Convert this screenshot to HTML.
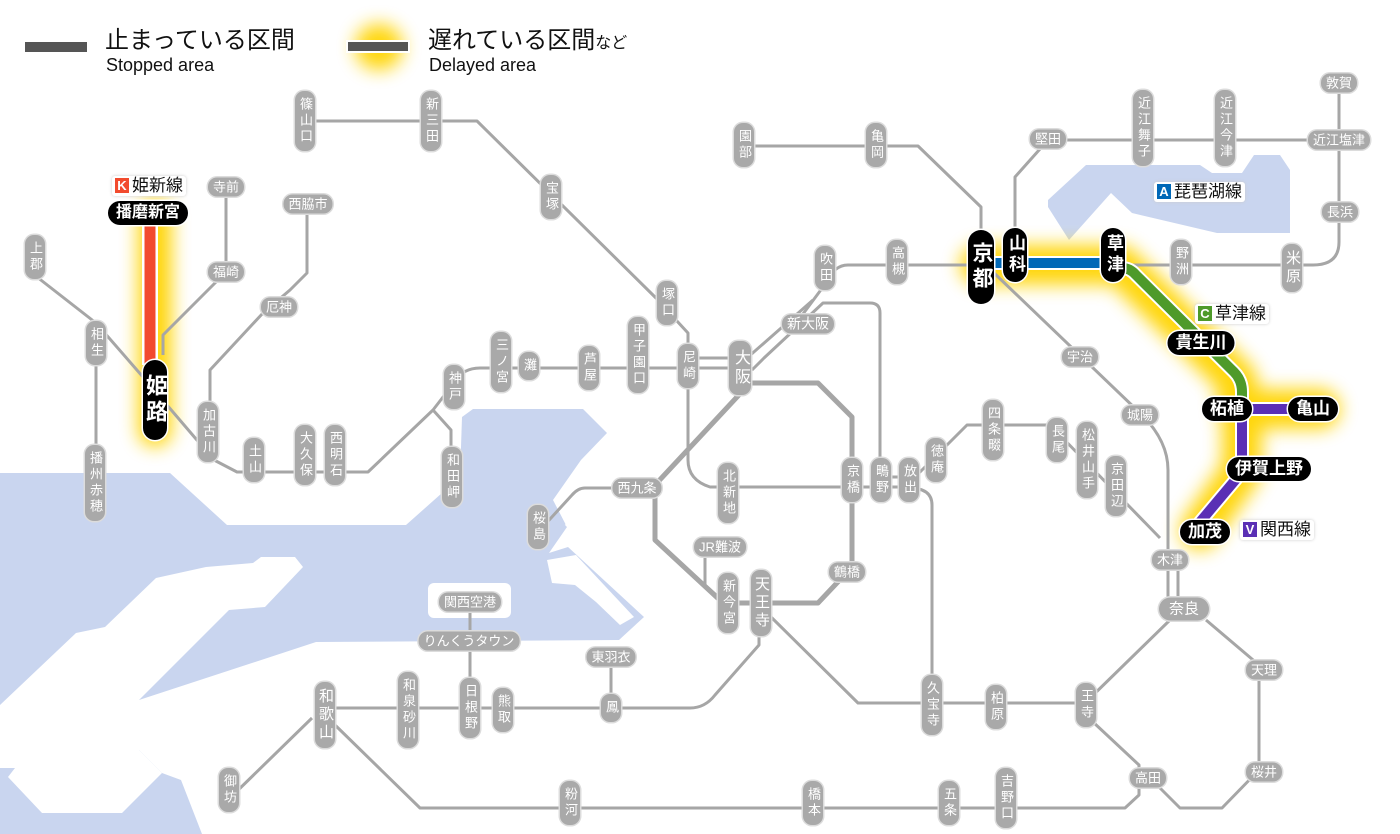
<!DOCTYPE html>
<html><head><meta charset="utf-8">
<style>
html,body{margin:0;padding:0;background:#fff;}
#w{position:relative;width:1400px;height:834px;overflow:hidden;font-family:"Liberation Sans","Noto Sans CJK JP",sans-serif;}
svg{position:absolute;left:0;top:0;}
.p{position:absolute;transform:translate(-50%,-50%);white-space:nowrap;text-align:center;}
.g{background:#a9a9a9;color:#fff;border-radius:9px;font-size:13px;line-height:15px;padding:2px 5px;box-shadow:0 0 0 1.5px #dcdcdc;}
.v{writing-mode:vertical-rl;text-orientation:upright;padding:6px 2px;letter-spacing:3px;line-height:16px;}
.b{background:#000;color:#fff;font-weight:bold;border-radius:13px;font-size:17px;line-height:22px;padding:1px 8px;box-shadow:0 0 0 1.5px #fff;}
.bv{writing-mode:vertical-rl;text-orientation:upright;padding:8px 1px;letter-spacing:4px;}
.lab{position:absolute;background:#fff;font-size:17px;line-height:20px;padding:0 3px;color:#111;border-radius:3px;box-shadow:0 0 3px #ccc;}
.lab i{font-style:normal;display:inline-block;color:#fff;font-size:13px;font-weight:bold;width:14px;height:15px;line-height:15px;text-align:center;margin-right:3px;vertical-align:1px;}
.t{position:absolute;color:#111;}
</style></head><body><div id="w">
<svg width="1400" height="834" viewBox="0 0 1400 834">
<defs>
<filter id="bl" x="-50%" y="-50%" width="200%" height="200%"><feGaussianBlur stdDeviation="9"/></filter>
</defs>
<!-- water -->
<g fill="#c9d5ef">
<polygon points="0,473 170,473 227,525 406,525 460,477 462,417 473,409 583,409 607,433 581,460 553,500 567,527 549,553 568,547 644,617 619,640 316,642 139,700 139,750 162,773 181,780 202,834 0,834"/>
<polygon points="1086,165 1200,165 1212,173 1242,173 1254,155 1280,155 1290,170 1290,233 1217,233 1132,213 1111,193 1069,240 1048,207 1048,200"/>
</g>
<g fill="#fff">
<polygon points="0,705 76,633 105,627 156,578 206,567 253,563 261,557 295,557 303,567 265,607 229,610 139,700 139,750 162,773 122,813 42,813 8,777 15,768 0,768"/>
<polygon points="547,560 576,555 634,617 620,625 596,602 575,585 552,583"/>
<rect x="428" y="583" width="83" height="35" rx="6"/>
</g>
<line x1="567" y1="527" x2="594" y2="500" stroke="#fff" stroke-width="6"/>
<!-- glows -->
<g stroke="#ffd400" fill="none" stroke-linecap="round" stroke-linejoin="round" filter="url(#bl)" opacity="0.95">
<path d="M155,215 V430" stroke-width="34"/>
<path d="M980,265 H1120 L1237,380 V409 H1320 M1242,409 V470 L1200,530" stroke-width="40"/>
<path d="M378,47 H380" stroke-width="46"/>
</g>
<!-- gray lines -->
<g stroke="#a6a6a6" fill="none" stroke-width="3" stroke-linejoin="round">
<path d="M305,121 H477 L658,300 Q673,317 688,333 V460 Q688,480 710,487 H909"/>
<path d="M890,477 H915 L967,425 H1050 L1160,538 M909,488 Q932,488 932,505 V703"/>
<path d="M37,277 L96,323 L143,377 L214,460 L237,472 H368 L433,410 L451,430 V477 M433,410 L450,388 Q460,368 480,368 H740"/>
<path d="M96,323 V483"/>
<path d="M226,187 V272 L163,335 V355"/>
<path d="M307,204 V273 L290,290 L263,313 L210,370 V403"/>
<path d="M688,358 H733"/>
<path d="M747,358 L813,300 M752,370 Q758,364 764,358 L823,303 H870 Q880,303 880,313 V467"/>
<path d="M800,318 L826,283 Q834,265 848,265 H1313 Q1339,265 1339,242 V83"/>
<path d="M745,146 H918 L981,207 V232"/>
<path d="M1015,232 V177 L1048,140 H1339"/>
<path d="M993,272 L1140,413 Q1168,440 1168,470 V600 M1178,560 V600"/>
<path d="M637,488 H585 Q578,488 572,495 L540,530"/>
<path d="M705,548 V585 L725,603"/>
<path d="M330,708 H690 Q705,708 715,695 L759,645 V625"/>
<path d="M769,615 L858,703 H1085 L1170,620 M1206,620 L1259,665 V770 L1222,808 H1180 L1155,783 M1093,722 L1139,765 V795 L1125,808 H420 L335,725 M312,718 L230,798"/>
<path d="M470,602 V708 M611,657 V708"/>
</g>
<!-- Osaka loop -->
<path d="M750,383 H818 L852,417 V567 L818,603 H723 L655,540 V485 L737,397 Z" stroke="#a6a6a6" stroke-width="5" fill="none" stroke-linejoin="round"/>
<!-- colored lines -->
<g fill="none" stroke-linejoin="round">
<path d="M150,222 V365" stroke="#fff" stroke-width="16"/>
<path d="M150,222 V365" stroke="#f24b2e" stroke-width="11"/>
<path d="M993,263 H1113" stroke="#fff" stroke-width="14"/>
<path d="M993,263 H1113" stroke="#0068b7" stroke-width="10"/>
<path d="M1122,268 Q1130,268 1136,275 L1234,372 Q1242,380 1242,392 V409" stroke="#fff" stroke-width="14"/>
<path d="M1122,268 Q1130,268 1136,275 L1234,372 Q1242,380 1242,392 V409" stroke="#4e9a2a" stroke-width="10"/>
<path d="M1242,409 H1320 M1242,409 V472 L1195,528" stroke="#fff" stroke-width="14"/>
<path d="M1242,409 H1320 M1242,409 V472 L1195,528" stroke="#5a2fb5" stroke-width="10"/>
</g>
<!-- legend bars -->
<rect x="25" y="42" width="62" height="10" fill="#555"/>
<rect x="346" y="40" width="64" height="13" fill="#fff"/>
<rect x="348" y="42" width="60" height="9" fill="#555"/>
</svg>

<div class="t" style="left:105px;top:27px;font-size:24px;line-height:28px;">止まっている区間</div>
<div class="t" style="left:106px;top:55px;font-size:18px;line-height:20px;">Stopped area</div>
<div class="t" style="left:428px;top:27px;font-size:24px;line-height:28px;">遅れている区間<span style="font-size:16px">など</span></div>
<div class="t" style="left:429px;top:55px;font-size:18px;line-height:20px;">Delayed area</div>

<div class="lab" style="left:112px;top:176px;"><i style="background:#f24b2e">K</i>姫新線</div>
<div class="lab" style="left:1154px;top:182px;"><i style="background:#0068b7">A</i>琵琶湖線</div>
<div class="lab" style="left:1195px;top:304px;"><i style="background:#4e9a2a">C</i>草津線</div>
<div class="lab" style="left:1240px;top:520px;"><i style="background:#5a2fb5">V</i>関西線</div>

<!-- gray stations -->
<div class="p g v" style="left:305px;top:121px">篠山口</div>
<div class="p g v" style="left:431px;top:121px">新三田</div>
<div class="p g" style="left:308px;top:204px">西脇市</div>
<div class="p g" style="left:226px;top:187px">寺前</div>
<div class="p g" style="left:226px;top:272px">福崎</div>
<div class="p g v" style="left:35px;top:257px">上郡</div>
<div class="p g v" style="left:96px;top:343px">相生</div>
<div class="p g" style="left:279px;top:307px">厄神</div>
<div class="p g v" style="left:208px;top:432px">加古川</div>
<div class="p g v" style="left:254px;top:460px">土山</div>
<div class="p g v" style="left:305px;top:455px">大久保</div>
<div class="p g v" style="left:335px;top:455px">西明石</div>
<div class="p g v" style="left:95px;top:483px">播州赤穂</div>
<div class="p g v" style="left:454px;top:387px">神戸</div>
<div class="p g v" style="left:452px;top:477px">和田岬</div>
<div class="p g v" style="left:501px;top:362px">三ノ宮</div>
<div class="p g v" style="left:529px;top:366px">灘</div>
<div class="p g v" style="left:589px;top:368px">芦屋</div>
<div class="p g v" style="left:638px;top:355px">甲子園口</div>
<div class="p g v" style="left:688px;top:366px">尼崎</div>
<div class="p g v" style="left:667px;top:303px">塚口</div>
<div class="p g v" style="left:551px;top:197px">宝塚</div>
<div class="p g v" style="left:740px;top:368px;font-size:16px;padding:8px 3px">大阪</div>
<div class="p g" style="left:808px;top:324px;font-size:14px">新大阪</div>
<div class="p g v" style="left:825px;top:268px">吹田</div>
<div class="p g v" style="left:897px;top:262px">高槻</div>
<div class="p g v" style="left:744px;top:145px">園部</div>
<div class="p g v" style="left:876px;top:145px">亀岡</div>
<div class="p g" style="left:1048px;top:139px">堅田</div>
<div class="p g v" style="left:1143px;top:128px">近江舞子</div>
<div class="p g v" style="left:1225px;top:128px">近江今津</div>
<div class="p g" style="left:1339px;top:83px">敦賀</div>
<div class="p g" style="left:1339px;top:140px">近江塩津</div>
<div class="p g" style="left:1340px;top:212px">長浜</div>
<div class="p g v" style="left:1181px;top:262px">野洲</div>
<div class="p g v" style="left:1292px;top:268px;font-size:15px">米原</div>
<div class="p g" style="left:1080px;top:357px">宇治</div>
<div class="p g" style="left:1140px;top:415px">城陽</div>
<div class="p g v" style="left:993px;top:430px">四条畷</div>
<div class="p g v" style="left:936px;top:460px">徳庵</div>
<div class="p g v" style="left:1057px;top:440px">長尾</div>
<div class="p g v" style="left:1087px;top:460px">松井山手</div>
<div class="p g v" style="left:1116px;top:486px">京田辺</div>
<div class="p g" style="left:1170px;top:560px">木津</div>
<div class="p g" style="left:1184px;top:609px;font-size:15px;padding:4px 10px;border-radius:12px">奈良</div>
<div class="p g" style="left:1264px;top:670px">天理</div>
<div class="p g" style="left:1264px;top:772px">桜井</div>
<div class="p g" style="left:1148px;top:778px">高田</div>
<div class="p g v" style="left:1086px;top:705px">王寺</div>
<div class="p g v" style="left:996px;top:707px">柏原</div>
<div class="p g v" style="left:932px;top:705px">久宝寺</div>
<div class="p g v" style="left:1006px;top:798px">吉野口</div>
<div class="p g v" style="left:949px;top:803px">五条</div>
<div class="p g v" style="left:813px;top:803px">橋本</div>
<div class="p g v" style="left:570px;top:803px">粉河</div>
<div class="p g v" style="left:229px;top:790px">御坊</div>
<div class="p g v" style="left:325px;top:715px;font-size:15px">和歌山</div>
<div class="p g v" style="left:408px;top:710px">和泉砂川</div>
<div class="p g v" style="left:470px;top:708px">日根野</div>
<div class="p g v" style="left:503px;top:710px">熊取</div>
<div class="p g v" style="left:611px;top:708px">鳳</div>
<div class="p g" style="left:611px;top:657px">東羽衣</div>
<div class="p g" style="left:469px;top:641px">りんくうタウン</div>
<div class="p g" style="left:470px;top:602px">関西空港</div>
<div class="p g v" style="left:761px;top:603px;font-size:15px">天王寺</div>
<div class="p g v" style="left:728px;top:603px">新今宮</div>
<div class="p g" style="left:720px;top:547px">JR難波</div>
<div class="p g" style="left:847px;top:572px">鶴橋</div>
<div class="p g v" style="left:852px;top:480px">京橋</div>
<div class="p g v" style="left:881px;top:480px">鴫野</div>
<div class="p g v" style="left:909px;top:480px">放出</div>
<div class="p g v" style="left:728px;top:493px">北新地</div>
<div class="p g" style="left:637px;top:488px">西九条</div>
<div class="p g v" style="left:538px;top:527px">桜島</div>

<!-- black stations -->
<div class="p b" style="left:148px;top:213px;font-size:16px">播磨新宮</div>
<div class="p b bv" style="left:155px;top:400px;font-size:22px;padding:14px 1px">姫路</div>
<div class="p b bv" style="left:981px;top:267px;font-size:21px;padding:12px 2px">京都</div>
<div class="p b bv" style="left:1015px;top:255px;font-size:17px;padding:6px 1px">山科</div>
<div class="p b bv" style="left:1113px;top:255px;font-size:17px;padding:6px 1px">草津</div>
<div class="p b" style="left:1201px;top:343px">貴生川</div>
<div class="p b" style="left:1227px;top:409px">柘植</div>
<div class="p b" style="left:1313px;top:409px">亀山</div>
<div class="p b" style="left:1269px;top:469px">伊賀上野</div>
<div class="p b" style="left:1205px;top:532px">加茂</div>
</div></body></html>
